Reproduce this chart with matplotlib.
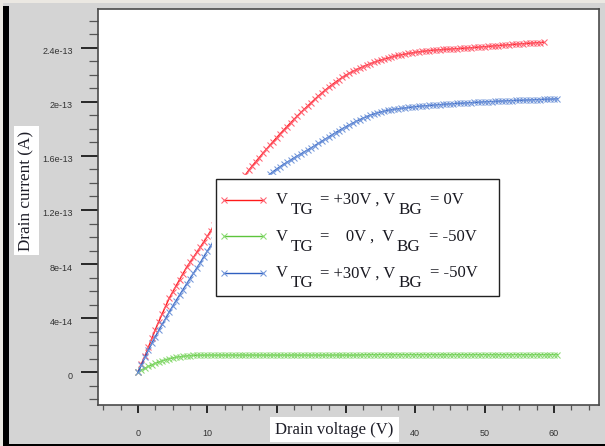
import numpy as np
import matplotlib
matplotlib.use("Agg")
import matplotlib.pyplot as plt
from matplotlib.patches import Rectangle
from matplotlib.ticker import FixedLocator, FixedFormatter, MultipleLocator
from matplotlib.legend_handler import HandlerLine2D
import matplotlib.transforms as mtransforms

# ---------------- data (drain current in units of 1e-14 A) ----------------
# drain-voltage sweep, 0.5 V step
v_red = np.arange(0, 58.51, 0.5)
v_green = np.arange(0, 60.51, 0.5)
v_blue = np.arange(0, 60.51, 0.5)

i_red = [
    0.00, 0.62, 1.20, 1.85, 2.50, 3.15, 3.75, 4.33, 4.90, 5.47,
    5.93, 6.39, 6.85, 7.30, 7.75, 8.12, 8.50, 8.88, 9.26, 9.65,
    10.05, 10.47, 10.89, 11.31, 11.73, 12.15, 12.57, 12.99, 13.41, 13.83,
    14.25, 14.60, 14.95, 15.27, 15.58, 15.88, 16.18, 16.48, 16.77, 17.06,
    17.35, 17.63, 17.90, 18.17, 18.44, 18.70, 18.96, 19.21, 19.46, 19.70,
    19.94, 20.18, 20.42, 20.64, 20.86, 21.07, 21.27, 21.46, 21.64, 21.81,
    21.97, 22.12, 22.25, 22.38, 22.50, 22.61, 22.72, 22.82, 22.91, 23.00,
    23.08, 23.16, 23.23, 23.30, 23.37, 23.43, 23.48, 23.53, 23.58, 23.62,
    23.66, 23.70, 23.73, 23.76, 23.79, 23.81, 23.83, 23.85, 23.87, 23.89,
    23.90, 23.92, 23.93, 23.95, 23.96, 23.98, 24.00, 24.02, 24.04, 24.06,
    24.08, 24.10, 24.12, 24.14, 24.16, 24.18, 24.20, 24.22, 24.24, 24.26,
    24.28, 24.30, 24.32, 24.33, 24.35, 24.37, 24.38, 24.40,
]

i_green = [
    0.00, 0.16, 0.30, 0.43, 0.55, 0.66, 0.76, 0.85, 0.93, 1.00,
    1.06, 1.11, 1.15, 1.18, 1.21, 1.23, 1.25, 1.26, 1.27, 1.27,
    1.27, 1.28, 1.27, 1.27, 1.28, 1.27, 1.27, 1.28, 1.27, 1.27,
    1.28, 1.27, 1.27, 1.28, 1.27, 1.27, 1.28, 1.27, 1.27, 1.28,
    1.27, 1.27, 1.28, 1.27, 1.27, 1.28, 1.27, 1.27, 1.28, 1.27,
    1.27, 1.28, 1.27, 1.27, 1.28, 1.27, 1.27, 1.28, 1.27, 1.27,
    1.28, 1.27, 1.27, 1.28, 1.28, 1.30, 1.30, 1.31, 1.30, 1.30,
    1.31, 1.30, 1.30, 1.31, 1.30, 1.30, 1.31, 1.30, 1.30, 1.31,
    1.30, 1.30, 1.31, 1.30, 1.30, 1.31, 1.30, 1.30, 1.31, 1.30,
    1.30, 1.31, 1.30, 1.30, 1.31, 1.30, 1.30, 1.31, 1.30, 1.30,
    1.31, 1.30, 1.30, 1.31, 1.30, 1.30, 1.31, 1.30, 1.30, 1.31,
    1.30, 1.30, 1.31, 1.30, 1.30, 1.31, 1.30, 1.30, 1.31, 1.30,
    1.31, 1.31,
]

i_blue = [
    0.00, 0.55, 1.10, 1.63, 2.15, 2.63, 3.10, 3.55, 3.98, 4.45,
    4.88, 5.30, 5.71, 6.12, 6.52, 6.92, 7.32, 7.72, 8.11, 8.55,
    8.95, 9.36, 9.75, 10.13, 10.50, 10.86, 11.21, 11.55, 11.88, 12.20,
    12.51, 12.81, 13.10, 13.38, 13.65, 13.91, 14.16, 14.40, 14.63, 14.84,
    15.03, 15.20, 15.37, 15.53, 15.69, 15.85, 16.00, 16.15, 16.30, 16.45,
    16.60, 16.76, 16.92, 17.08, 17.24, 17.40, 17.56, 17.72, 17.87, 18.02,
    18.16, 18.30, 18.43, 18.56, 18.68, 18.80, 18.91, 19.01, 19.10, 19.18,
    19.25, 19.31, 19.36, 19.41, 19.45, 19.49, 19.52, 19.55, 19.58, 19.61,
    19.64, 19.67, 19.69, 19.71, 19.73, 19.75, 19.77, 19.79, 19.81, 19.83,
    19.85, 19.86, 19.88, 19.89, 19.91, 19.92, 19.94, 19.95, 19.97, 19.98,
    20.00, 20.01, 20.02, 20.03, 20.05, 20.06, 20.07, 20.08, 20.09, 20.10,
    20.11, 20.12, 20.13, 20.14, 20.15, 20.16, 20.17, 20.18, 20.19, 20.20,
    20.21, 20.22,
]

x_ticks = [0, 10, 20, 30, 40, 50, 60]
# the 20 and 30 labels sit under the axis-title box in the original
x_tick_labels = ["0", "10", "", "", "40", "50", "60"]
y_ticks = [0, 4e-14, 8e-14, 1.2e-13, 1.6e-13, 2e-13, 2.4e-13]
y_tick_labels = ["0", "4e-14", "8e-14", "1.2e-13", "1.6e-13", "2e-13", "2.4e-13"]

series_names = [
    "VTG = +30V, VBG = 0V",
    "VTG = 0V, VBG = -50V",
    "VTG = +30V, VBG = -50V",
]
# legend label pieces: (text, subscript level, gap before in points)
label_parts = [
    [("V", 0, 0), ("TG", -1, 1.8), ("= +30V , V", 0, 4.8), ("BG", -1, 2.6), ("= 0V", 0, 5.6)],
    [("V", 0, 0), ("TG", -1, 1.8), ("=    0V ,  V", 0, 4.8), ("BG", -1, 2.2), ("= -50V", 0, 5.6)],
    [("V", 0, 0), ("TG", -1, 1.8), ("= +30V , V", 0, 4.8), ("BG", -1, 2.6), ("= -50V", 0, 5.6)],
]

# ---------------- figure ----------------
W, H = 605, 446
fig = plt.figure(figsize=(W / 100, H / 100), dpi=100, facecolor="#d4d4d4")

# window decoration
fig.patches.append(Rectangle((0, 1 - 3 / H), 1, 3 / H, transform=fig.transFigure,
                             facecolor="#ebe8e2", edgecolor="none", zorder=0))
fig.patches.append(Rectangle((0, 0), 3 / W, 1 - 3 / H, transform=fig.transFigure,
                             facecolor="#ebe8e2", edgecolor="none", zorder=0))
fig.patches.append(Rectangle((3 / W, 0), 6 / W, 1 - 6 / H, transform=fig.transFigure,
                             facecolor="black", edgecolor="none", zorder=0))
fig.patches.append(Rectangle((3 / W, 0), 1, 2 / H, transform=fig.transFigure,
                             facecolor="black", edgecolor="none", zorder=0))

ax_l, ax_r, ax_t, ax_b = 97.5, 599, 8.5, 405
ax = fig.add_axes([ax_l / W, 1 - ax_b / H, (ax_r - ax_l) / W, (ax_b - ax_t) / H])
ax.set_facecolor("white")

styles = [
    dict(color="#ff1a1a", mec="#ff6070"),
    dict(color="#5cc43c", mec="#88da70"),
    dict(color="#3060c0", mec="#7296da"),
]
handles = []
for v, i, st, lab in zip([v_red, v_green, v_blue], [i_red, i_green, i_blue], styles, series_names):
    (ln,) = ax.plot(v, np.asarray(i) * 1e-14, color=st["color"], lw=1.0,
                    marker="x", ms=5.0, mew=0.75, mec=st["mec"], label=lab, zorder=2)
    handles.append(ln)

ax.set_xlim(-5.84, 66.5)
ax.set_ylim(-2.42e-14, 2.69e-13)

ax.xaxis.set_major_locator(FixedLocator(x_ticks))
ax.xaxis.set_major_formatter(FixedFormatter(x_tick_labels))
ax.xaxis.set_minor_locator(MultipleLocator(2.5))
ax.yaxis.set_major_locator(FixedLocator(y_ticks))
ax.yaxis.set_major_formatter(FixedFormatter(y_tick_labels))
ax.yaxis.set_minor_locator(MultipleLocator(1e-14))

tick_font = ["Liberation Sans", "DejaVu Sans"]
ax.tick_params(axis="y", which="major", direction="out", length=12.2, width=1.3,
               color="#1a1a1a", pad=5.4, labelsize=6.5, labelcolor="#333333")
ax.tick_params(axis="y", which="minor", direction="out", length=6.5, width=0.9, color="#555555")
ax.tick_params(axis="x", which="major", direction="out", length=5.5, width=1.3,
               color="#1a1a1a", pad=11.5, labelsize=6.5, labelcolor="#333333")
ax.tick_params(axis="x", which="minor", direction="out", length=3.3, width=0.9, color="#555555")
for lab in ax.get_xticklabels() + ax.get_yticklabels():
    lab.set_family(tick_font)
offset = mtransforms.ScaledTranslation(0, -3 / 100, fig.dpi_scale_trans)
for lab in ax.get_yticklabels():
    lab.set_transform(lab.get_transform() + offset)

for sp in ax.spines.values():
    sp.set_color("#4a4a4a")
    sp.set_linewidth(1.2)

serif = ["Liberation Serif", "DejaVu Serif"]
ax.set_xlabel("Drain voltage (V)", fontsize=12, family=serif, color="#1e1e28",
              bbox=dict(facecolor="white", edgecolor="none", pad=3.5))
ax.xaxis.set_label_coords((334.5 - ax_l) / (ax_r - ax_l), (ax_b - 429.5) / (ax_b - ax_t))
ax.xaxis.label.set_va("center")
ax.set_ylabel("Drain current (A)", fontsize=12.3, family=serif, color="#1e1e28",
              bbox=dict(facecolor="white", edgecolor="none", pad=3))
ax.yaxis.set_label_coords((26.5 - ax_l) / (ax_r - ax_l), (ax_b - 190.5) / (ax_b - ax_t))
ax.yaxis.label.set_va("center")

# legend: box, handles and row layout come from ax.legend; the labels with
# full-size, lowered subscripts are composed next to each (blank) legend label
lx0 = (216 - ax_l) / (ax_r - ax_l)
lw_ = (499 - 216) / (ax_r - ax_l)
ltop = (ax_b - 179) / (ax_b - ax_t)
hmap = {h: HandlerLine2D(numpoints=2, xpad=-0.78) for h in handles}
leg = ax.legend(handles=handles, labels=[" "] * len(handles), loc="upper left",
                bbox_to_anchor=(lx0, 0.0, lw_, ltop), mode="expand", borderaxespad=0,
                prop=dict(family=serif, size=11), handler_map=hmap, handlelength=2.37,
                handletextpad=0.55, borderpad=1.0, labelspacing=1.5,
                fancybox=False, framealpha=1, facecolor="white", edgecolor="white")
leg.get_frame().set_linewidth(6)
leg.set_zorder(5)

fig.canvas.draw()
renderer = fig.canvas.get_renderer()
bb = leg.get_window_extent(renderer)
ax.add_artist(Rectangle((bb.x0, bb.y0), bb.width, bb.height,
                        transform=mtransforms.IdentityTransform(), fill=False,
                        edgecolor="#222222", linewidth=1.0, zorder=6))

sub_drop = 7.2
for txt, parts in zip(leg.get_texts(), label_parts):
    prev, prev_xy, level = txt, (0, 0), 0
    for s, sub, gap in parts:
        size = 12.3 if sub else 12
        a = ax.annotate(s, xy=prev_xy, xycoords=prev,
                        xytext=(gap, (sub - level) * sub_drop), textcoords="offset points",
                        ha="left", va="bottom", fontsize=size, family=serif,
                        color="#1a1a22", zorder=10, annotation_clip=False)
        prev, prev_xy, level = a, (1, 0), sub

fig.canvas.draw()
fig.savefig("out.png", dpi=100, facecolor=fig.get_facecolor())
